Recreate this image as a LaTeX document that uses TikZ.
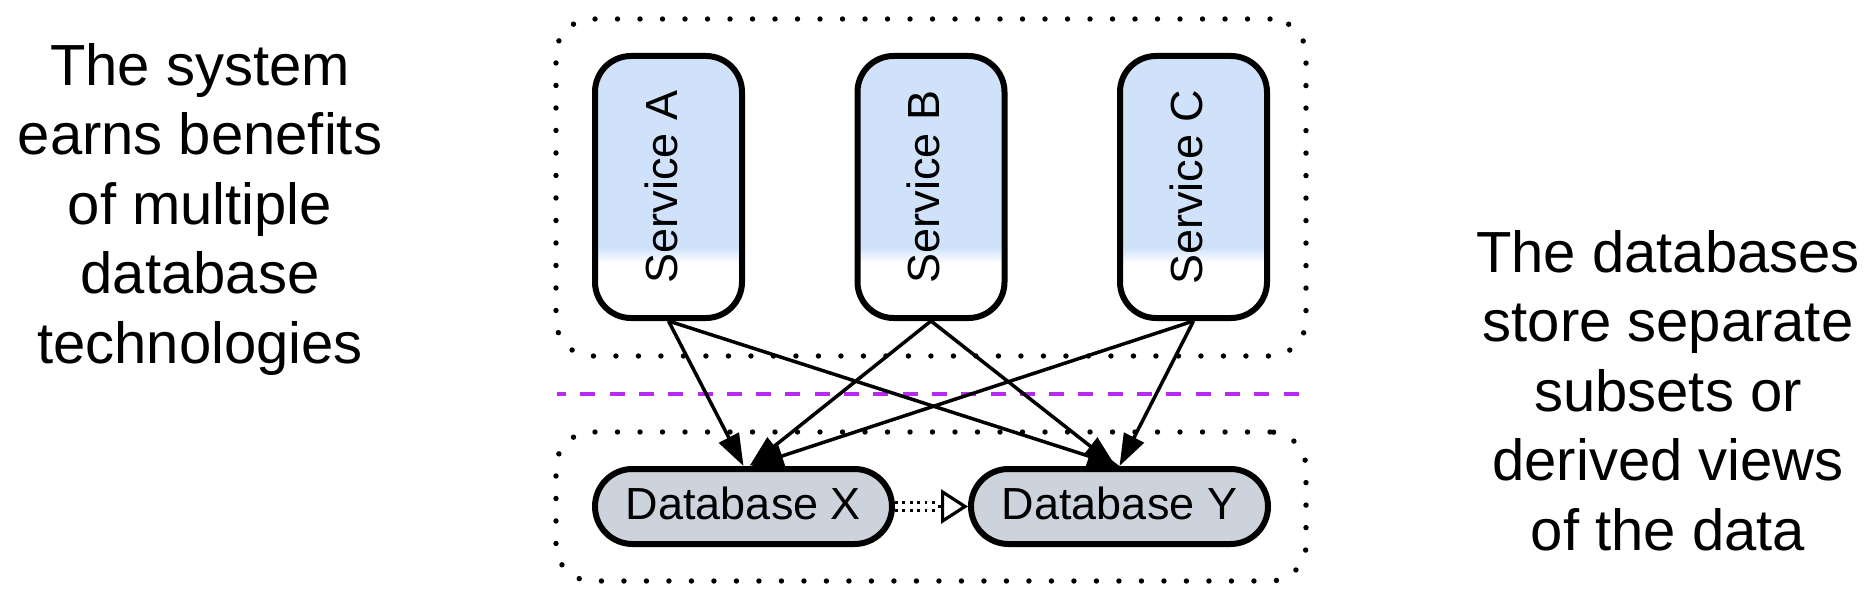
\documentclass[tikz,border=0pt]{standalone}
\usepackage{fontspec}
\setmainfont{Liberation Sans}
\usetikzlibrary{arrows.meta,calc}
\definecolor{svcblue}{RGB}{207,226,250}
\definecolor{dbgray}{RGB}{205,211,220}
\definecolor{sepviolet}{RGB}{183,43,240}
\pgfdeclareverticalshading{svcshade}{100bp}{color(0bp)=(white); color(35.5bp)=(white); color(38.5bp)=(svcblue); color(100bp)=(svcblue)}
\begin{document}
\begin{tikzpicture}[x=0.5pt,y=-0.5pt,
  svcbox/.style={draw, line width=3pt, rounded corners=18pt, minimum width=73.5pt, minimum height=131pt, shading=svcshade, inner sep=0pt, font=\fontsize{22.5pt}{27pt}\selectfont},
  dbbox/.style={draw, line width=3pt, rounded corners=18.75pt, minimum width=148.5pt, minimum height=37.5pt, fill=dbgray, inner sep=0pt, text height=16.2pt, text depth=3.7pt, font=\fontsize{22.5pt}{27pt}\selectfont},
  cluster/.style={draw, line width=2.7pt, line cap=round, dash pattern=on 0pt off 11.25pt, rounded corners=18pt, inner sep=0pt},
  flow/.style={line width=1.75pt, -{Triangle[length=16pt,width=11pt]}},
  dotlink/.style={draw=black, line width=1.35pt, double=white, double distance=2.65pt, dash pattern=on 1.35pt off 2.35pt, shorten >=15.5pt},
  opentip/.style={line width=1.6pt, -{Triangle[open, length=13.5pt, width=17pt]}, shorten <=21.5pt},
  side/.style={align=center, font=\fontsize{29pt}{34.75pt}\selectfont, inner sep=0pt},
  sep/.style={draw=sepviolet, line width=2.2pt, dash pattern=on 7.5pt off 7.15pt, dash phase=3pt}
]
\useasboundingbox (0,0) rectangle (1873,604);

% clusters
\node[cluster, minimum width=375pt, minimum height=168.5pt] (topcl) at (931,187.5) {};
\node[cluster, minimum width=375pt, minimum height=74.5pt] (botcl) at (931,506.5) {};

% separator
\coordinate (sepL) at (557,394);
\coordinate (sepR) at (1307,394);
\draw[sep] (sepL) -- (sepR);

% services
\node[svcbox] (sa) at (668.5,187) {\rotatebox{90}{\raisebox{0pt}[0.72em][0.33em]{Service A}}};
\node[svcbox] (sb) at (931,187) {\rotatebox{90}{\raisebox{0pt}[0.72em][0.33em]{Service B}}};
\node[svcbox] (sc) at (1193.5,187) {\rotatebox{90}{\raisebox{0pt}[0.72em][0.33em]{Service C}}};

% databases
\node[dbbox] (dbx) at (743.5,506.5) {Database X};
\node[dbbox] (dby) at (1119.5,506.5) {Database Y};

% flows
\draw[flow] (sa.south) -- (dbx.north);
\draw[flow] (sa.south) -- (dby.north);
\draw[flow] (sb.south) -- ($(dbx.north)+(6,0)$);
\draw[flow] (sb.south) -- ($(dby.north)+(-4,0)$);
\draw[flow] (sc.south) -- ($(dbx.north)+(8,0)$);
\draw[flow] (sc.south) -- (dby.north);

% derived link
\draw[dotlink] (dbx.east) -- (dby.west);
\draw[opentip] (dbx.east) -- (dby.west);

% side texts
\node[side, anchor=north] (lt) at (200,43) {The system\\earns benefits\\of multiple\\database\\technologies};
\node[side, anchor=north] (rt) at (1668,230) {The databases\\store separate\\subsets or\\derived views\\of the data};
\end{tikzpicture}
\end{document}
